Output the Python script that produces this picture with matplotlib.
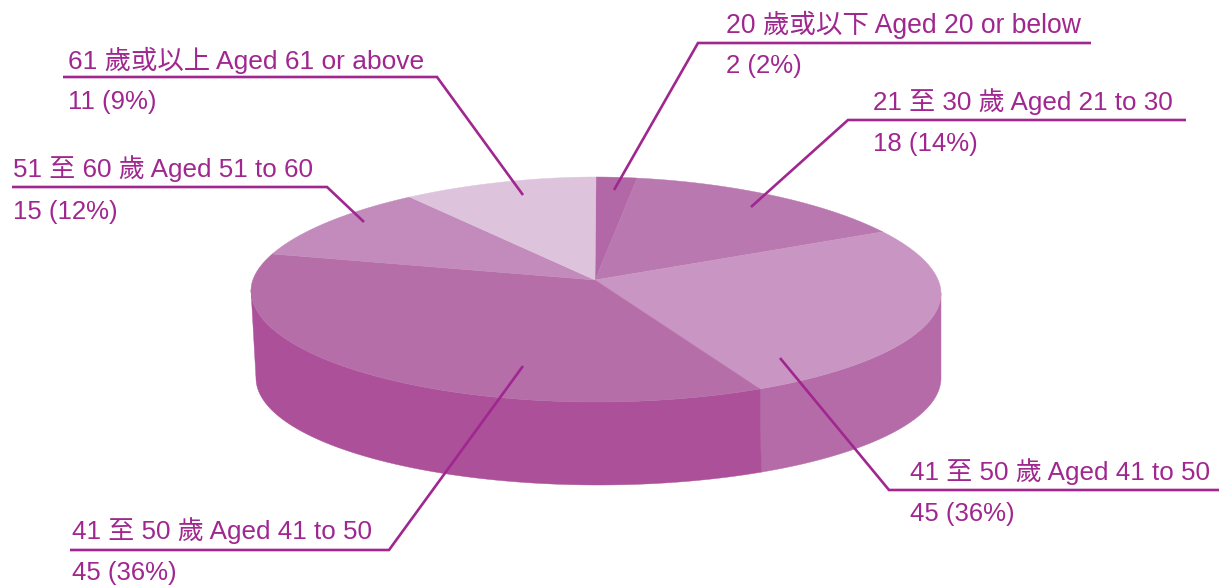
import numpy as np
import matplotlib
matplotlib.use("Agg")
import matplotlib.pyplot as plt

plt.rcParams['font.family'] = ['Liberation Sans', 'Noto Sans CJK TC', 'DejaVu Sans']

# Data
slice_shares = [2.65, 17.15, 32.85, 47.95, 12.65, 11.75]   # drawn share of each slice (as measured on the rim)
category_labels = ['20 歲或以下 Aged 20 or below', '21 至 30 歲 Aged 21 to 30',
                   '41 至 50 歲 Aged 41 to 50', '41 至 50 歲 Aged 41 to 50',
                   '51 至 60 歲 Aged 51 to 60', '61 歲或以上 Aged 61 or above']
value_labels = ['2 (2%)', '18 (14%)', '45 (36%)', '45 (36%)', '15 (12%)', '11 (9%)']

# Styles
top_colors = ['#B267A6', '#B979B0', '#C996C3', '#B66EA9', '#C28BBB', '#DEC3DC']
side_colors = {2: '#B56BA8', 3: '#AB5099'}
ink = '#A0278F'
category_sizes = [19.1, 18.75, 18.75, 18.75, 18.75, 19.0]

# Layout (pixels)
W, H = 1219, 585
CX, RX = 596, 345
TOP_Y, BOTTOM_Y = 177, 402
LEFT_CY, RIGHT_CY = 290, 293
UPPER_EXP = 1.9
BOT = dict(cx=598.5, cy=378, rx=342.5, ry=107)
APEX = (595, 280)
leaders = [
    [(1091, 43), (698, 43), (614, 190)],
    [(1186, 120), (848, 120), (751, 207)],
    [(780, 358), (889, 490), (1219, 490)],
    [(523, 366), (389, 550), (70, 550)],
    [(12, 187), (327, 187), (364, 222)],
    [(63, 77), (437, 77), (523, 195)],
]
label_pos = [(726, 25, 66.5), (873, 102, 144), (910, 472, 514), (72, 531, 573), (13, 169, 212), (68, 60, 102)]


def top_rim(a):
    """Rim of the top face: slightly flattened upper half, perspective shift between sides."""
    s, c = np.sin(a), np.cos(a)
    cy = np.where(s >= 0, RIGHT_CY, LEFT_CY)
    upper = c > 0
    exp = np.where(upper, 2 / UPPER_EXP, 1.0)
    sx = np.where(upper, np.sign(s) * np.abs(s) ** exp, s)
    cy_term = np.where(upper, np.abs(c) ** exp, c)
    x = CX + RX * sx
    y = np.where(upper, cy - (cy - TOP_Y) * cy_term, cy - (BOTTOM_Y - cy) * cy_term)
    return x, y


def bot_rim(a):
    return BOT['cx'] + BOT['rx'] * np.sin(a), BOT['cy'] - BOT['ry'] * np.cos(a)


fig = plt.figure(figsize=(W / 100, H / 100), dpi=100)
ax = fig.add_axes([0, 0, 1, 1])
ax.set_xlim(0, W)
ax.set_ylim(H, 0)
ax.axis('off')

edges = 2 * np.pi * np.concatenate([[0], np.cumsum(slice_shares)]) / np.sum(slice_shares)

# Side walls: only the slices that reach the front half of the pie
for i, col in side_colors.items():
    a = np.linspace(max(edges[i], np.pi / 2), min(edges[i + 1], 3 * np.pi / 2), 200)
    xt, yt = top_rim(a)
    xb, yb = bot_rim(a)
    ax.fill(np.r_[xt, xb[::-1]], np.r_[yt, yb[::-1]], color=col, lw=0.3, zorder=1)

# Top surface
for i, col in enumerate(top_colors):
    a = np.linspace(edges[i], edges[i + 1], 300)
    x, y = top_rim(a)
    ax.fill(np.r_[APEX[0], x], np.r_[APEX[1], y], color=col, lw=0.3, zorder=2)

# Leader lines and labels
for pts, cat, val, (lx, ly1, ly2), fs in zip(leaders, category_labels, value_labels, label_pos, category_sizes):
    px, py = zip(*pts)
    ax.plot(px, py, color=ink, lw=1.9, solid_joinstyle='miter', solid_capstyle='butt', zorder=3)
    ax.text(lx, ly1, cat, color=ink, fontsize=fs, ha='left', va='center', zorder=4)
    ax.text(lx, ly2, val, color=ink, fontsize=18.5, ha='left', va='center', zorder=4)

fig.savefig('out.png', dpi=100, facecolor='white')
